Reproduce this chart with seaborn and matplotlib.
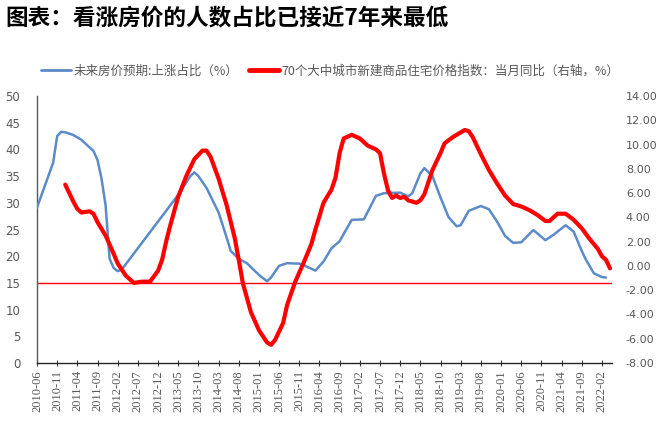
import matplotlib
matplotlib.use("Agg")
import matplotlib.pyplot as plt
from matplotlib.lines import Line2D
import pandas as pd
import seaborn as sns

sns.set_theme(style="white")
plt.rcParams['font.family'] = ['Noto Sans CJK SC', 'DejaVu Sans']

title = "图表：看涨房价的人数占比已接近7年来最低"
expect_label = "未来房价预期:上涨占比（%）"
price_label = "70个大中城市新建商品住宅价格指数：当月同比（右轴，%）"

start_month = "2010-06"
tick_labels = ["2010-06", "2010-11", "2011-04", "2011-09", "2012-02", "2012-07", "2012-12",
               "2013-05", "2013-10", "2014-03", "2014-08", "2015-01", "2015-06", "2015-11",
               "2016-04", "2016-09", "2017-02", "2017-07", "2017-12", "2018-05", "2018-10",
               "2019-03", "2019-08", "2020-01", "2020-06", "2020-11", "2021-04", "2021-09",
               "2022-02"]

expect_month = ["2010-06", "2010-10", "2010-11", "2010-12", "2011-01", "2011-03", "2011-05",
                "2011-08", "2011-09", "2011-10", "2011-11", "2011-12", "2012-01", "2012-02",
                "2012-03", "2012-07", "2012-12", "2013-05", "2013-08", "2013-09", "2013-10",
                "2013-12", "2014-03", "2014-05", "2014-06", "2014-08", "2014-10", "2015-01",
                "2015-03", "2015-04", "2015-06", "2015-08", "2015-11", "2016-01", "2016-03",
                "2016-05", "2016-07", "2016-09", "2016-11", "2016-12", "2017-03", "2017-06",
                "2017-08", "2017-12", "2018-02", "2018-03", "2018-05", "2018-06", "2018-08",
                "2018-10", "2018-12", "2019-02", "2019-03", "2019-05", "2019-08", "2019-10",
                "2019-12", "2020-02", "2020-04", "2020-06", "2020-09", "2020-12", "2021-02",
                "2021-05", "2021-07", "2021-09", "2021-10", "2021-12", "2022-02", "2022-03"]
expect_value = [29.1, 37.5, 42.5, 43.3, 43.2, 42.7, 41.8,
                39.7, 38.0, 34.5, 29.5, 19.5, 17.8, 17.2,
                17.5, 21.5, 26.5, 31.5, 35.0, 35.7, 35.0,
                32.8, 28.2, 23.5, 21.0, 19.5, 18.7, 16.5,
                15.3, 16.0, 18.2, 18.7, 18.6, 18.0, 17.3,
                19.0, 21.5, 22.8, 25.5, 26.8, 26.9, 31.3,
                31.8, 31.9, 31.2, 31.8, 35.5, 36.5, 35.0,
                31.0, 27.3, 25.6, 25.8, 28.5, 29.4, 28.8,
                26.5, 23.8, 22.5, 22.6, 24.9, 23.0, 24.0,
                25.8, 24.6, 21.0, 19.4, 16.8, 16.1, 16.0]

price_month = ["2011-01", "2011-02", "2011-03", "2011-04", "2011-05", "2011-07", "2011-08",
               "2011-09", "2011-11", "2012-01", "2012-02", "2012-04", "2012-06", "2012-08",
               "2012-10", "2012-12", "2013-01", "2013-02", "2013-03", "2013-05", "2013-07",
               "2013-09", "2013-11", "2013-12", "2014-01", "2014-03", "2014-05", "2014-07",
               "2014-08", "2014-09", "2014-11", "2015-01", "2015-03", "2015-04", "2015-05",
               "2015-07", "2015-08", "2015-10", "2015-12", "2016-02", "2016-03", "2016-05",
               "2016-07", "2016-08", "2016-09", "2016-10", "2016-12", "2017-02", "2017-04",
               "2017-06", "2017-07", "2017-08", "2017-09", "2017-10", "2017-11", "2017-12",
               "2018-01", "2018-02", "2018-04", "2018-05", "2018-06", "2018-08", "2018-10",
               "2018-11", "2019-01", "2019-03", "2019-04", "2019-05", "2019-06", "2019-08",
               "2019-10", "2019-12", "2020-02", "2020-04", "2020-06", "2020-08", "2020-10",
               "2020-12", "2021-01", "2021-03", "2021-05", "2021-07", "2021-09", "2021-11",
               "2022-01", "2022-02", "2022-03", "2022-04"]
price_value = [6.7, 6.0, 5.3, 4.7, 4.4, 4.5, 4.3,
               3.6, 2.5, 1.0, 0.2, -0.8, -1.4, -1.3,
               -1.3, -0.4, 0.5, 2.0, 3.3, 5.7, 7.4,
               8.8, 9.5, 9.5, 9.0, 7.2, 5.0, 2.3,
               0.5, -1.4, -3.8, -5.3, -6.3, -6.5, -6.1,
               -4.7, -3.2, -1.3, 0.2, 1.8, 3.0, 5.2,
               6.3, 7.3, 9.3, 10.5, 10.8, 10.5, 9.9,
               9.6, 9.3, 7.6, 6.2, 5.6, 5.8, 5.6,
               5.7, 5.4, 5.2, 5.4, 5.9, 7.9, 9.3,
               10.1, 10.6, 11.0, 11.2, 11.1, 10.6, 9.2,
               7.9, 6.8, 5.8, 5.1, 4.9, 4.6, 4.2,
               3.7, 3.7, 4.3, 4.3, 3.8, 3.1, 2.2,
               1.4, 0.8, 0.5, -0.2]

ref_level = 15
left_ticks = [0, 5, 10, 15, 20, 25, 30, 35, 40, 45, 50]
right_ticks = [-8, -6, -4, -2, 0, 2, 4, 6, 8, 10, 12, 14]


def month_index(s):
    p0 = pd.Period(start_month, freq="M")
    return [(pd.Period(v, freq="M") - p0).n for v in s]


df_exp = pd.DataFrame({"m": month_index(expect_month), "v": expect_value})
df_price = pd.DataFrame({"m": month_index(price_month), "v": price_value})

blue = "#5B8BC8"
red = "#FF0000"
gray = "#595959"

fig = plt.figure(figsize=(6.72, 4.22), dpi=100)
ax = fig.add_axes([37 / 672, 1 - 363 / 422, (612 - 37) / 672, (363 - 96) / 422])
ax2 = ax.twinx()

ax.axhline(ref_level, color=red, lw=1.0, zorder=1)
sns.lineplot(data=df_exp, x="m", y="v", ax=ax, color=blue, lw=1.8, zorder=3)
sns.lineplot(data=df_price, x="m", y="v", ax=ax2, color=red, lw=3.0, zorder=4)
for line in ax.lines + ax2.lines:
    line.set_solid_joinstyle("round")
    line.set_solid_capstyle("round")

ax.set_xlim(0, 142.5)
ax.set_ylim(0, 50)
ax2.set_ylim(-8, 14)
ax.set_xlabel("")
ax.set_ylabel("")
ax2.set_ylabel("")

ax.set_yticks(left_ticks)
ax.set_yticklabels([str(t) for t in left_ticks], fontsize=8.5, color=gray, family="DejaVu Sans")
ax2.set_yticks(right_ticks)
ax2.set_yticklabels([f"{t:.2f}" for t in right_ticks], fontsize=8, color=gray,
                    family="DejaVu Sans")

ax.set_xticks(month_index(tick_labels))
ax.set_xticklabels(tick_labels, rotation=90, fontsize=9, color=gray,
                   family="Liberation Serif")

ax.tick_params(axis="x", which="both", direction="inout", length=4, width=0.8,
               color="#404040", pad=3, bottom=True)
ax.tick_params(axis="y", length=0, pad=12)
ax2.tick_params(axis="y", length=0, pad=10)

for a in (ax, ax2):
    a.spines["top"].set_visible(False)
    a.spines["right"].set_visible(False)
    a.grid(False)
ax2.spines["left"].set_visible(False)
ax2.spines["bottom"].set_visible(False)
ax.spines["left"].set_color("#595959")
ax.spines["left"].set_linewidth(1.0)
ax.spines["bottom"].set_color("#262626")
ax.spines["bottom"].set_linewidth(1.0)
ax.patch.set_alpha(0)

fig.text(5 / 672, 1 - 18 / 422, title, fontsize=16.3, fontweight="bold", color="black",
         va="center", ha="left")

handles = [Line2D([], [], color=blue, lw=2.0), Line2D([], [], color=red, lw=3.5)]
fig.legend(handles, [expect_label, price_label], loc="center",
           bbox_to_anchor=(330 / 672, 1 - 71 / 422), ncol=2, frameon=False,
           fontsize=9, labelcolor=gray, handlelength=2.4, handletextpad=0.2,
           columnspacing=0.8)

fig.savefig("out.png", dpi=100)
